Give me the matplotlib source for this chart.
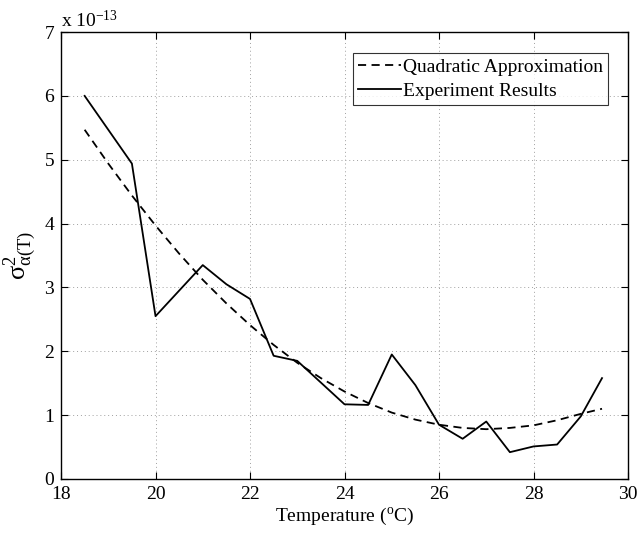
import numpy as np
import matplotlib
matplotlib.use("Agg")
import matplotlib.pyplot as plt

plt.rcParams['font.family'] = ['Liberation Serif', 'DejaVu Serif']
plt.rcParams['mathtext.fontset'] = 'custom'
plt.rcParams['mathtext.rm'] = 'Liberation Serif'
plt.rcParams['mathtext.it'] = 'Liberation Serif:italic'
plt.rcParams['mathtext.default'] = 'regular'

# measured variance vs temperature (units of 1e-13)
temp_exp = [18.5, 19.5, 20.0, 21.0, 21.5, 22.0, 22.5, 23.0, 24.0, 24.5,
            25.0, 25.5, 26.0, 26.5, 27.0, 27.5, 28.0, 28.5, 29.0, 29.45]
sigma_exp = [6.00, 4.94, 2.55, 3.35, 3.05, 2.82, 1.93, 1.85, 1.17, 1.16,
             1.95, 1.47, 0.85, 0.63, 0.90, 0.42, 0.51, 0.54, 0.98, 1.58]

# quadratic fit curve (units of 1e-13)
temp_fit = [18.5, 19.0, 19.5, 20.0, 20.5, 21.0, 21.5, 22.0, 22.5, 23.0, 23.5,
            24.0, 24.5, 25.0, 25.5, 26.0, 26.5, 27.0, 27.5, 28.0, 28.5, 29.0, 29.45]
sigma_fit = [5.47, 4.94, 4.44, 3.97, 3.53, 3.12, 2.75, 2.41, 2.10, 1.82, 1.58,
             1.37, 1.19, 1.04, 0.93, 0.85, 0.80, 0.78, 0.80, 0.84, 0.92, 1.02, 1.10]

fig = plt.figure(figsize=(6.39, 5.34), dpi=100)
ax = fig.add_axes([0.0955, 0.103, 0.8873, 0.837])

ax.plot(temp_fit, sigma_fit, color='k', lw=1.3, linestyle=(0, (4.5, 3)),
        label='Quadratic Approximation')
ax.plot(temp_exp, sigma_exp, color='k', lw=1.3, label='Experiment Results')

ax.set_xlim(18, 30)
ax.set_ylim(0, 7)
ax.set_xticks(np.arange(18, 31, 2))
ax.set_yticks(np.arange(0, 8, 1))
ax.tick_params(direction='in', top=True, right=True, labelsize=14, length=5,
               width=0.8, pad=5)
ax.grid(True, linestyle=(0, (1, 3)), color='#a0a0a0', lw=0.7)
for s in ax.spines.values():
    s.set_linewidth(1.0)

ax.set_xlabel(r'Temperature ($^{\rm o}$C)', fontsize=14, labelpad=2)
ax.set_ylabel(r'$\sigma^2_{\alpha(T)}$', fontsize=19, labelpad=4)
ax.text(0.0, 1.003, r'x 10$^{-13}$', transform=ax.transAxes, fontsize=14,
        ha='left', va='bottom')

leg = ax.legend(loc='upper right', bbox_to_anchor=(0.964, 0.953), fontsize=14,
                frameon=True, fancybox=False, handlelength=2.2,
                handletextpad=0.1, borderpad=0.25, labelspacing=0.35,
                borderaxespad=0)
leg.get_frame().set_edgecolor('k')
leg.get_frame().set_linewidth(0.8)

fig.savefig('out.png', dpi=100)
